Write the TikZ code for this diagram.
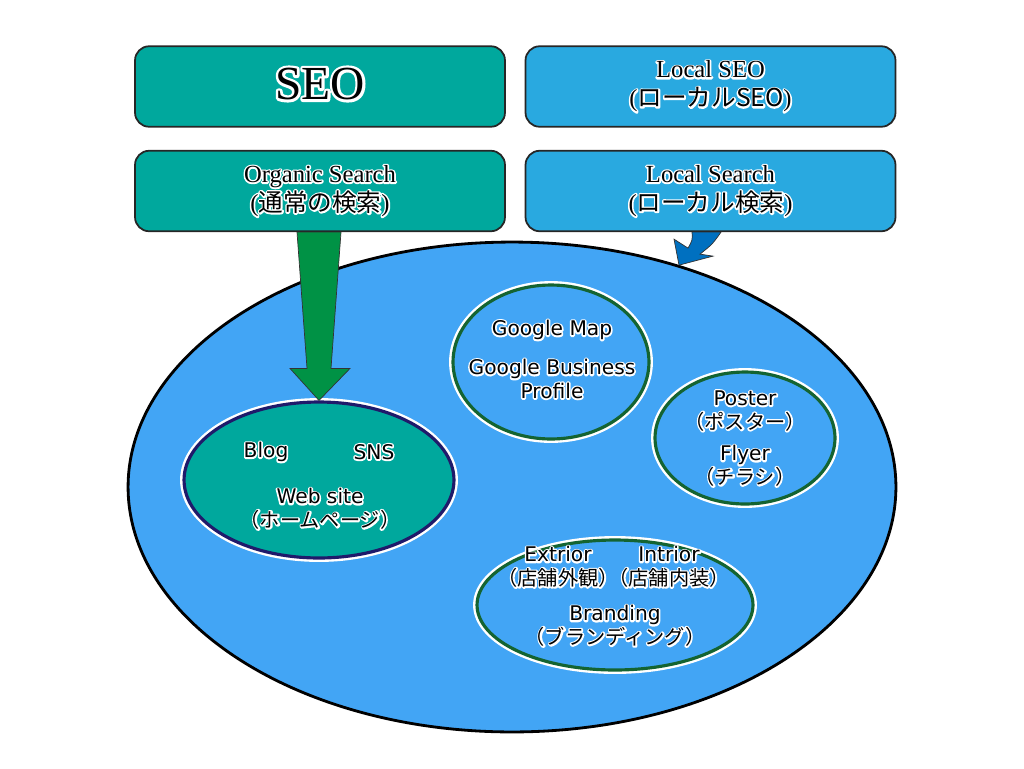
\documentclass[tikz,border=0pt]{standalone}
\usepackage{fontspec}
\setmainfont{Liberation Serif}
\newfontfamily\jpfont{Noto Sans CJK JP}
\newfontfamily\lblfont{DejaVu Sans}
\usetikzlibrary{shapes.geometric,calc}

\definecolor{seoteal}{RGB}{0,168,157}
\definecolor{localblue}{RGB}{41,169,224}
\definecolor{areablue}{RGB}{66,165,245}
\definecolor{arrowgreen}{RGB}{0,146,69}
\definecolor{arrowblue}{RGB}{0,112,192}
\definecolor{rimnavy}{RGB}{31,26,107}
\definecolor{rimgreen}{RGB}{20,100,50}

% white rim round a text: stroked copy under the filled one
\newcommand{\halowd}{1.8}
\newcommand{\halo}[1]{\leavevmode\rlap{\special{pdf:literal direct q 1 1 1 RG \halowd\space w 1 j 1 Tr}#1\special{pdf:literal direct Q}}#1}
\newcommand{\jp}[1]{{\jpfont #1}}
\newcommand{\kana}[1]{{\jpfont\fontsize{11.5}{13.5}\selectfont #1}}

\begin{document}
\begin{tikzpicture}[x=0.02cm,y=-0.02cm,
  box/.style={draw=black!85, line width=1pt, rounded corners=8pt, minimum width=7.4cm, minimum height=1.61cm, inner sep=0pt, align=center, font=\fontsize{14}{16.5}\selectfont},
  spot/.style={ellipse, draw=rimgreen, fill=areablue, line width=1.8pt, inner sep=0pt, preaction={draw=white,line width=4.5pt}},
  lbl/.style={align=center, font=\lblfont\fontsize{11.5}{13.5}\selectfont}]

\useasboundingbox (0,0) rectangle (1024,768);

% top boxes
\node[box, fill=seoteal] (seo) at (320,86.5) {};
\node[font=\fontsize{27}{30}\selectfont] (seotxt) at (320,84) {\renewcommand{\halowd}{3}\halo{SEO}};
\node[box, fill=localblue] (lseo) at (710.5,86.5) {\halo{Local SEO}\\\halo{(\jp{ローカルSEO})}};
\node[box, fill=seoteal] (organic) at (320,191) {\halo{Organic Search}\\\halo{(\jp{通常の検索})}};
\node[box, fill=localblue] (lsearch) at (710.5,191) {\halo{Local Search}\\\halo{(\jp{ローカル検索})}};

% search area
\node[ellipse, draw=black, line width=1.6pt, fill=areablue, inner sep=0pt, minimum width=15.36cm, minimum height=9.8cm] (area) at (512,487) {};

% local search arrow
\fill[arrowblue, draw=black!80, line width=0.4pt]
  ($(lsearch.south)+(-18.5,0)$) .. controls ($(lsearch.south)+(-18,8)$) .. ($(lsearch.south)+(-22.5,16)$)
  -- ($(lsearch.south)+(-36.5,7)$) -- ($(lsearch.south)+(-31.5,33)$) -- ($(lsearch.south)+(2.5,24)$)
  -- ($(lsearch.south)+(-10.5,22)$) .. controls ($(lsearch.south)+(2,12)$) .. ($(lsearch.south)+(10.5,0)$) -- cycle;

% sub areas
\node[spot, draw=rimnavy, fill=seoteal, minimum width=5.4cm, minimum height=3.12cm] (web) at (319,480) {};
\node[spot, minimum width=3.92cm, minimum height=3.08cm] (gmap) at (551,362) {};
\node[spot, minimum width=3.6cm, minimum height=2.64cm] (print) at (745,438) {};
\node[spot, minimum width=5.52cm, minimum height=2.6cm] (store) at (615,605) {};

% organic search arrow
\fill[arrowgreen, draw=black!80, line width=0.4pt]
  ($(organic.south -| web.north)+(-22,0)$) -- ($(organic.south -| web.north)+(22,0)$)
  -- ($(web.north)+(12,-32)$) -- ($(web.north)+(31,-32)$) -- (web.north)
  -- ($(web.north)+(-29,-32)$) -- ($(web.north)+(-12,-32)$) -- cycle;

% labels
\node[lbl] (blog) at (266,452) {\halo{Blog}};
\node[lbl] (sns) at (374,452) {\halo{SNS}};
\node[lbl] (site) at (320,509) {\halo{Web site}\\\halo{\kana{（ホームページ）}}};
\node[lbl] (map) at (552,330) {\halo{Google Map}};
\node[lbl] (gbp) at (552,379) {\halo{Google Business}\\\halo{Profile}};
\node[lbl] (poster) at (745,411) {\halo{Poster}\\\halo{\kana{（ポスター）}}};
\node[lbl] (flyer) at (745,466) {\halo{Flyer}\\\halo{\kana{（チラシ）}}};
\node[lbl] (ext) at (558,567) {\halo{Extrior}\\\halo{\kana{（店舗外観）}}};
\node[lbl] (int) at (669,567) {\halo{Intrior}\\\halo{\kana{（店舗内装）}}};
\node[lbl] (brand) at (615,626) {\halo{Branding}\\\halo{\kana{（ブランディング）}}};

\end{tikzpicture}
\end{document}
